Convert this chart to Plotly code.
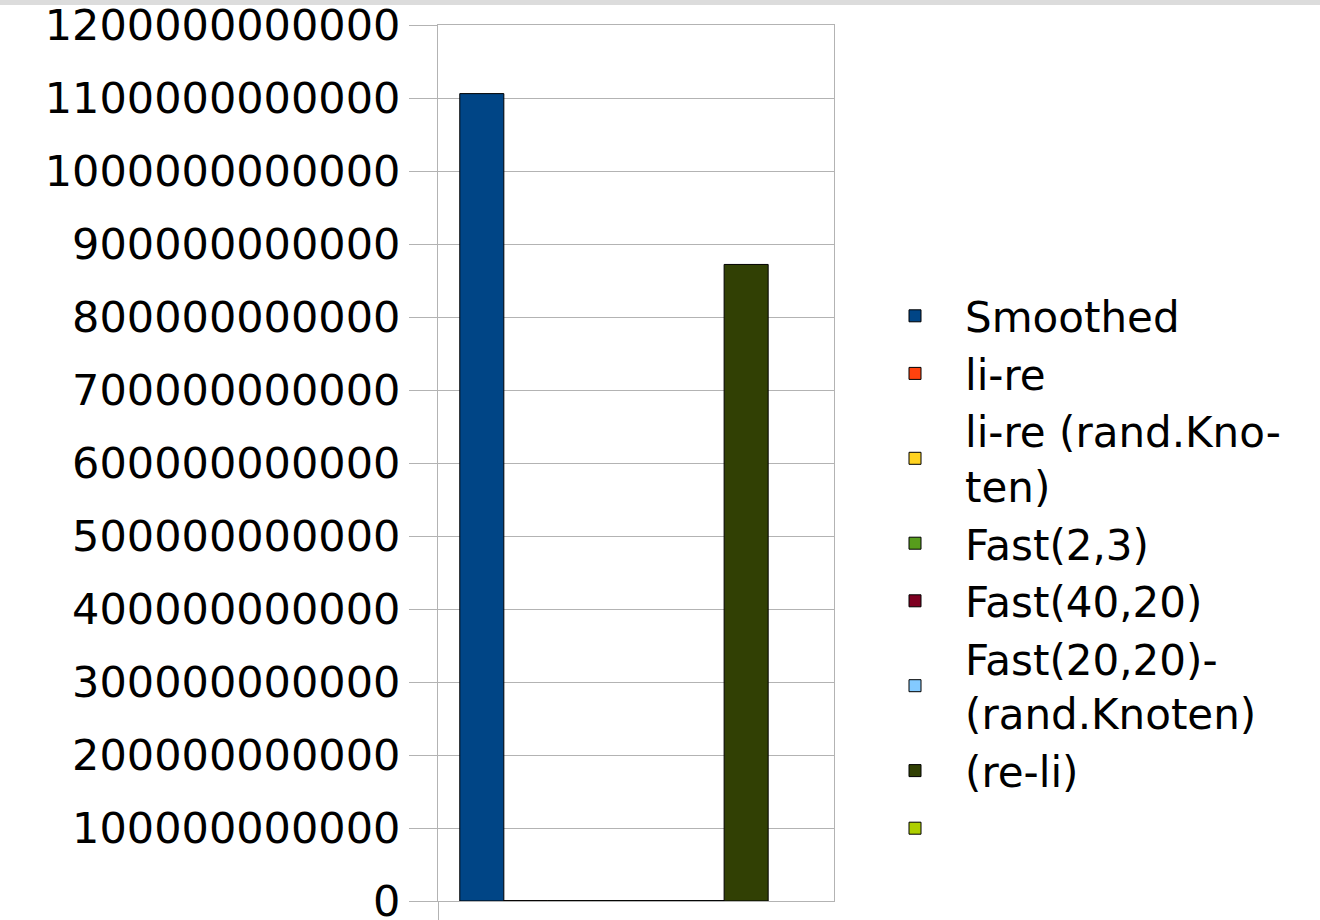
import plotly.graph_objects as go

series_names = [
    "Smoothed",
    "li-re",
    "li-re (rand.Kno-<br>ten)",
    "Fast(2,3)",
    "Fast(40,20)",
    "Fast(20,20)-<br>(rand.Knoten)",
    "(re-li)",
    "",
]
series_values = [
    1.106e12,
    6e8,
    6e8,
    6e8,
    6e8,
    6e8,
    8.72e11,
    None,
]
series_colors = [
    "#004586",
    "#ff420e",
    "#ffd320",
    "#579d1c",
    "#7e0021",
    "#83caff",
    "#314004",
    "#aecf00",
]
category_x = [0]
y_ticks = [i * 1e11 for i in range(13)]

FONT = "DejaVu Sans"
GRID = "#b3b3b3"

fig = go.Figure()
for i, (name, val, col) in enumerate(zip(series_names, series_values, series_colors)):
    fig.add_trace(go.Bar(
        x=category_x,
        y=[val],
        name=name,
        legendgroup=f"g{i}",
        marker=dict(color=col, line=dict(color="#000000", width=1)),
        hoverinfo="skip",
    ))

fig.update_layout(
    width=1320,
    height=920,
    margin=dict(l=438, r=486, t=25, b=19, autoexpand=False),
    paper_bgcolor="#ffffff",
    plot_bgcolor="#ffffff",
    barmode="group",
    bargap=0.11,
    bargroupgap=0,
    font=dict(family=FONT, size=43, color="#000000"),
    showlegend=True,
    legend=dict(
        xref="container", yref="container",
        x=865 / 1320, y=1 - 282 / 920,
        xanchor="left", yanchor="top",
        font=dict(family=FONT, size=42, color="#000000"),
        itemwidth=90,
        maxheight=900,
        tracegroupgap=2.5,
        bgcolor="rgba(0,0,0,0)",
        traceorder="normal",
    ),
    xaxis=dict(
        range=[-0.5, 0.5],
        tickvals=[-0.5],
        ticks="outside",
        ticklen=19,
        tickcolor=GRID,
        tickwidth=1,
        showticklabels=False,
        showgrid=False,
        zeroline=False,
        showline=True,
        linecolor=GRID,
        linewidth=1,
        mirror=True,
    ),
    yaxis=dict(
        range=[0, 1.2e12],
        tickvals=y_ticks,
        tickformat="d",
        ticks="outside",
        ticklen=28,
        tickcolor=GRID,
        tickwidth=1,
        ticklabelstandoff=0,
        ticklabeloverflow="allow",
        showgrid=True,
        gridcolor=GRID,
        gridwidth=1,
        zeroline=False,
        showline=True,
        linecolor=GRID,
        linewidth=1,
        mirror=True,
        tickfont=dict(family=FONT, size=43, color="#000000"),
    ),
    shapes=[dict(
        type="rect", xref="paper", yref="paper",
        x0=-2, x1=3, y0=1 + 20 / 876, y1=1.2,
        fillcolor="#dcdcdc", line=dict(width=0), layer="above",
    )],
)

fig.write_html("out.html")
